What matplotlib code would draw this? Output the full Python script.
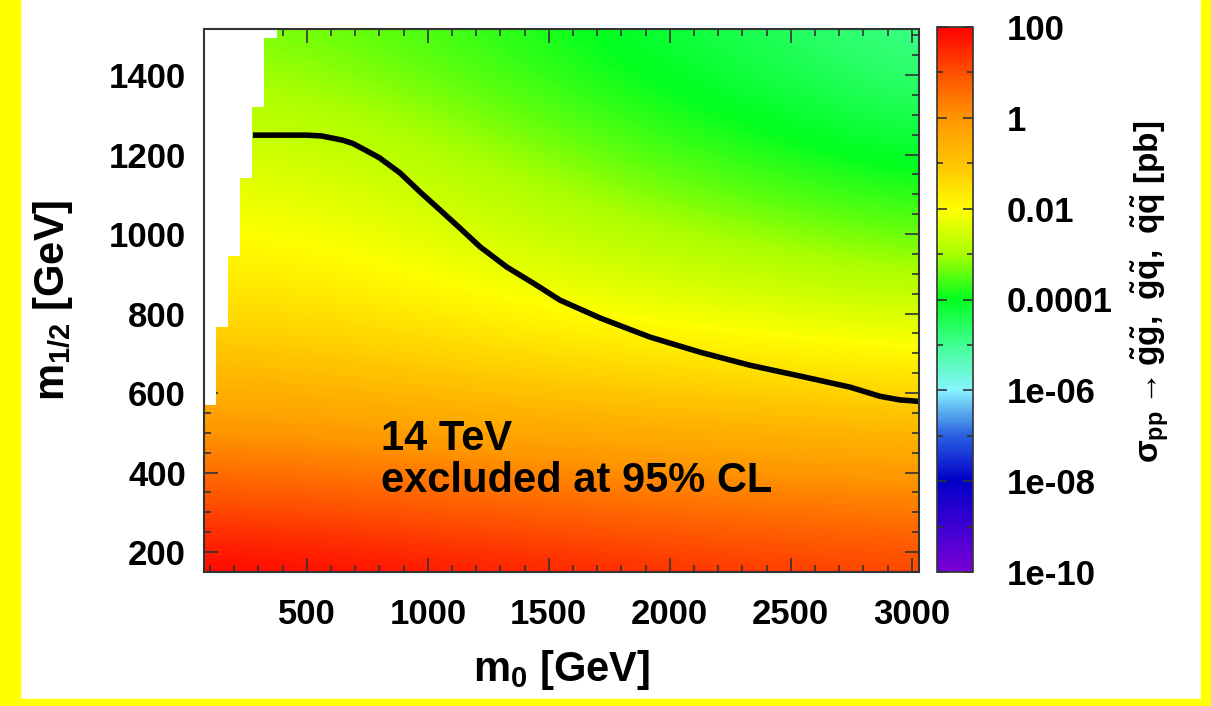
import matplotlib
matplotlib.use('Agg')
import matplotlib.pyplot as plt
import numpy as np
from matplotlib.colors import LinearSegmentedColormap, Normalize
from matplotlib.patches import Rectangle
from matplotlib.ticker import MultipleLocator

# nodes of the cross-section map
M0_NODES = [0, 500, 1000, 1500, 2000, 2500, 3000]
M12_NODES = [100, 300, 500, 700, 900, 1100, 1300, 1500]
# log10(sigma / pb), one row per m1/2 node
LOG_SIGMA = [
    [2.2, 2.1, 1.95, 1.8, 1.65, 1.5, 1.35],
    [1.2, 1.1, 0.95, 0.8, 0.65, 0.55, 0.45],
    [0.0, -0.1, -0.25, -0.4, -0.5, -0.6, -0.7],
    [-1.0, -1.1, -1.3, -1.5, -1.65, -1.8, -1.95],
    [-1.7, -1.8, -2.05, -2.35, -2.6, -2.8, -3.0],
    [-2.2, -2.3, -2.6, -2.95, -3.3, -3.55, -3.8],
    [-2.75, -2.85, -3.15, -3.5, -3.85, -4.15, -4.45],
    [-3.25, -3.35, -3.6, -3.9, -4.25, -4.6, -5.0],
]

# white staircase: no valid point above STEP_M12_MAX in each 50 GeV column
STEP_M0_LEFT = [75, 125, 175, 225, 275, 325]
STEP_M12_MAX = [570, 766, 945, 1141, 1319, 1493]

# 95% CL exclusion contour
LIMIT_M0 = [277, 500, 560, 610, 650, 690, 740, 800, 885, 968, 1050, 1133,
            1216, 1327, 1435, 1546, 1712, 1918, 2125, 2332, 2538, 2745,
            2869, 2950, 3014, 3030]
LIMIT_M12 = [1249, 1249, 1247, 1241, 1236, 1228, 1212, 1192, 1154, 1106, 1061,
             1015, 968, 917, 877, 834, 789, 741, 703, 670, 643, 615,
             592, 583, 580, 579]

CBAR_TICKS = [-10, -8, -6, -4, -2, 0, 2]
CBAR_LABELS = ['1e-10', '1e-08', '1e-06', '0.0001', '0.01', '1', '100']

CMAP_COLORS = ['#7a00d6', '#3c00d2', '#0000c8', '#2a60e0', '#88f4ff', '#40ff90',
               '#00ff20', '#a8ff00', '#ffff00', '#ffc400', '#ff9600', '#ff5000',
               '#ff0000']

X_RANGE = (75, 3030)
Y_RANGE = (150, 1516)

plt.rcParams['font.family'] = ['Liberation Sans', 'DejaVu Sans']
plt.rcParams['font.weight'] = 'bold'
plt.rcParams['mathtext.fontset'] = 'custom'
plt.rcParams['mathtext.rm'] = 'Liberation Sans:bold'
plt.rcParams['mathtext.it'] = 'Liberation Sans:bold'
plt.rcParams['mathtext.bf'] = 'Liberation Sans:bold'

fig = plt.figure(figsize=(12.11, 7.06), dpi=100)
ax = fig.add_axes([204 / 1211, 1 - 572 / 706, 715 / 1211, 543 / 706])
cax = fig.add_axes([937 / 1211, 1 - 572 / 706, 36 / 1211, 545 / 706])

cmap = LinearSegmentedColormap.from_list('xsec', CMAP_COLORS)
norm = Normalize(vmin=-10, vmax=2)

dx = M0_NODES[1] - M0_NODES[0]
dy = M12_NODES[1] - M12_NODES[0]
extent = (M0_NODES[0] - dx / 2, M0_NODES[-1] + dx / 2,
          M12_NODES[0] - dy / 2, M12_NODES[-1] + dy / 2)
im = ax.imshow(np.array(LOG_SIGMA), origin='lower', extent=extent, aspect='auto',
               cmap=cmap, norm=norm, interpolation='bicubic',
               interpolation_stage='data', zorder=1)

ax.bar(STEP_M0_LEFT, [Y_RANGE[1] - v for v in STEP_M12_MAX], bottom=STEP_M12_MAX,
       width=50, align='edge', color='white', linewidth=0, zorder=2)

ax.plot(LIMIT_M0, LIMIT_M12, color='black', lw=4, solid_capstyle='butt',
        solid_joinstyle='round', zorder=3)

ax.text(806, 457, '14 TeV', fontsize=30, fontweight='bold', zorder=4)
ax.text(806, 351, 'excluded at 95% CL', fontsize=30, fontweight='bold', zorder=4)

ax.set_xlim(*X_RANGE)
ax.set_ylim(*Y_RANGE)
ax.xaxis.set_major_locator(MultipleLocator(500))
ax.xaxis.set_minor_locator(MultipleLocator(100))
ax.yaxis.set_major_locator(MultipleLocator(200))
ax.yaxis.set_minor_locator(MultipleLocator(50))
ax.tick_params(which='both', direction='in', top=True, right=True,
               color='#333333', width=1.2)
ax.tick_params(which='major', length=10, labelsize=25)
ax.tick_params(which='minor', length=5)
ax.tick_params(axis='x', pad=19)
ax.tick_params(axis='y', pad=13)
for s in ax.spines.values():
    s.set_color('#333333')
    s.set_linewidth(1.5)
    s.set_zorder(5)

ax.set_xlabel(r'$\mathregular{m_0}$ [GeV]', fontsize=30, fontweight='bold')
ax.set_ylabel(r'$\mathregular{m_{1/2}}$ [GeV]', fontsize=30, fontweight='bold')
ax.xaxis.set_label_coords(0.5, -0.14)
ax.yaxis.set_label_coords(-0.18, 0.5)

cbar = fig.colorbar(im, cax=cax)
cbar.set_ticks(CBAR_TICKS)
cbar.set_ticklabels(CBAR_LABELS)
cax.set_yticks(range(-9, 2, 2), minor=True)
cax.tick_params(which='both', direction='in', left=True, right=True,
                color='#333333', width=1.2)
cax.tick_params(which='major', length=7, labelsize=25, pad=24)
cax.tick_params(which='minor', length=4)
cbar.outline.set_edgecolor('#333333')
cbar.outline.set_linewidth(1.2)

fig.text(1150 / 1211, 1 - 292 / 706,
         r'$\sigma_{pp} \rightarrow \tilde{g}\tilde{g},\ \tilde{g}\tilde{q},\ \tilde{q}\tilde{q}$ [pb]',
         rotation=90, ha='center', va='center', fontsize=24, fontweight='bold')

# yellow frame around the picture
for r in [(0, 0, 20 / 1211, 1), (1201 / 1211, 0, 10 / 1211, 1), (0, 0, 1, 7 / 706)]:
    fig.patches.append(Rectangle(r[:2], r[2], r[3], transform=fig.transFigure,
                                 color='#ffff00', zorder=0))

fig.savefig('out.png', dpi=100)
